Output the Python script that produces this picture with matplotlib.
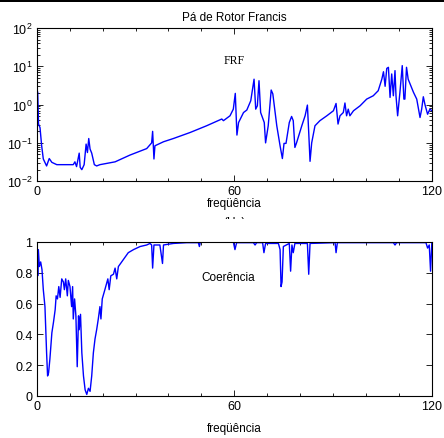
import matplotlib
matplotlib.use("Agg")
import matplotlib.pyplot as plt
from matplotlib.patches import Rectangle
from matplotlib.ticker import MultipleLocator, FormatStrFormatter, LogLocator, NullFormatter

plt.rcParams["font.family"] = ["Liberation Sans", "DejaVu Sans"]
plt.rcParams["mathtext.fontset"] = "custom"
plt.rcParams["mathtext.rm"] = "Liberation Sans"
plt.rcParams["mathtext.it"] = "Liberation Sans"

# FRF magnitude
frf_freq = [0.3, 0.55, 1.0, 1.5, 2.0, 3.0, 3.8, 4.6, 6.1, 9.1, 11.1, 11.6, 12.1, 12.9, 13.2, 13.7, 14.4, 15.0, 15.4, 15.8,
            16.2, 16.7, 17.5, 18.2, 19.2, 23.8, 28.3, 33.4, 34.9, 35.2, 35.6, 35.9, 38.5, 41.5, 46.6, 51.6, 56.2, 56.7,
            58.7, 59.7, 60.3, 60.8, 61.3, 62.8, 63.8, 65.0, 66.0, 66.5, 67.0, 67.5, 68.0, 69.1, 69.5, 70.3, 71.2, 71.7,
            72.9, 73.9, 74.6, 75.1, 75.7, 76.7, 77.4, 77.9, 78.4, 78.9, 80.5, 81.5, 82.2, 82.6, 83.0, 83.5, 84.5, 86.0,
            88.1, 90.1, 90.9, 91.5, 92.1, 93.1, 93.6, 94.1, 94.6, 95.1, 96.2, 98.2, 100.2, 102.2, 103.7, 104.8, 105.3,
            105.8, 106.3, 106.8, 107.3, 107.8, 108.3, 108.8, 109.1, 109.6, 110.3, 111.0, 111.5, 111.8, 112.3, 112.8,
            114.4, 115.4, 116.4, 116.9, 117.4, 117.9, 118.7, 119.4, 120.0]
frf_mag = [2.1, 0.31, 0.25, 0.084, 0.038, 0.025, 0.039, 0.031, 0.027, 0.027, 0.027, 0.032, 0.024, 0.054, 0.023, 0.020,
           0.027, 0.093, 0.056, 0.13, 0.069, 0.054, 0.027, 0.025, 0.027, 0.032, 0.048, 0.071, 0.10, 0.20, 0.038, 0.084,
           0.107, 0.13, 0.187, 0.28, 0.42, 0.38, 0.51, 0.76, 1.96, 0.16, 0.34, 0.62, 0.72, 1.26, 4.6, 0.76, 0.93, 4.2,
           0.62, 0.34, 0.10, 0.28, 2.4, 1.9, 0.28, 0.084, 0.039, 0.097, 0.097, 0.34, 0.49, 0.38, 0.076, 0.10, 0.28,
           0.51, 0.97, 0.187, 0.033, 0.10, 0.28, 0.38, 0.51, 0.69, 1.07, 0.31, 0.51, 0.62, 1.1, 0.51, 0.76, 0.51, 0.69,
           0.93, 1.39, 1.7, 2.3, 4.6, 7.2, 3.0, 8.8, 9.4, 1.54, 6.3, 1.7, 7.7, 1.7, 0.51, 2.1, 10.4, 1.39, 1.39, 9.4,
           4.6, 2.1, 1.39, 0.46, 0.76, 1.6, 1.0, 0.56, 0.76, 0.69]

# coherence
coh_freq = [0.1, 0.3, 0.5, 0.8, 1.2, 1.6, 2.0, 2.5, 3.0, 3.3, 3.6, 4.0, 4.6, 5.1, 5.6, 5.9, 6.3, 6.7, 7.1, 7.6, 8.1, 8.4,
            8.8, 9.3, 9.6, 10.1, 10.6, 10.9, 11.1, 11.5, 11.9, 12.3, 12.7, 12.9, 13.3, 13.7, 14.2, 14.7, 15.2, 15.7,
            16.2, 16.7, 17.2, 17.7, 18.2, 18.7, 19.2, 19.5, 19.9, 20.7, 21.6, 22.0, 22.5, 23.3, 23.8, 24.3, 24.8, 25.8,
            26.8, 27.8, 29.4, 31.4, 33.4, 34.4, 34.9, 35.2, 35.6, 37.4, 38.2, 38.5, 41.5, 45.5, 49.1, 49.4, 49.7, 59.7,
            60.2, 60.7, 65.8, 66.3, 66.8, 68.6, 69.0, 69.5, 73.4, 73.9, 74.2, 74.5, 74.9, 76.7, 77.1, 77.5, 77.9, 78.4,
            82.2, 82.6, 83.0, 90.6, 90.9, 91.3, 108.3, 108.8, 109.3, 118.2, 118.7, 119.2, 119.6, 120.0]
coh_val = [1.0, 0.78, 0.95, 0.84, 0.87, 0.82, 0.69, 0.58, 0.28, 0.13, 0.15, 0.24, 0.41, 0.48, 0.56, 0.65, 0.63, 0.71,
           0.64, 0.76, 0.74, 0.69, 0.76, 0.65, 0.75, 0.71, 0.58, 0.71, 0.50, 0.63, 0.52, 0.19, 0.52, 0.43, 0.53, 0.28,
           0.13, 0.04, 0.01, 0.05, 0.03, 0.13, 0.28, 0.37, 0.43, 0.50, 0.58, 0.50, 0.63, 0.69, 0.76, 0.69, 0.78, 0.79,
           0.83, 0.76, 0.84, 0.87, 0.90, 0.93, 0.95, 0.97, 0.98, 0.99, 0.98, 0.83, 0.98, 0.98, 0.86, 0.98, 0.99, 0.995,
           0.995, 0.97, 1.0, 1.0, 0.95, 0.995, 0.995, 0.98, 0.995, 0.995, 0.93, 0.99, 0.99, 0.95, 0.71, 0.74, 0.97,
           0.99, 0.81, 0.98, 0.93, 0.99, 0.99, 0.79, 0.99, 0.995, 0.93, 0.995, 0.995, 0.98, 0.995, 0.995, 0.96, 0.98,
           0.81, 1.0]

x_ticks = [0, 60, 120]


def style_axis(ax):
    ax.set_xlim(0, 120)
    ax.set_xticks(x_ticks)
    ax.xaxis.set_minor_locator(MultipleLocator(10))
    ax.tick_params(which="both", direction="in", top=True, right=True, labelsize=9, pad=3, width=0.6)
    ax.tick_params(which="major", length=4)
    ax.tick_params(which="minor", length=2.5)
    for s in ax.spines.values():
        s.set_linewidth(0.8)


fig = plt.figure(figsize=(4.44, 4.39), dpi=100)

ax1 = fig.add_axes([0.0827, 0.585, 0.890, 0.349])
ax1.plot(frf_freq, frf_mag, color="#0000ff", linewidth=1.0)
ax1.set_yscale("log")
ax1.set_ylim(1e-2, 1e2)
ax1.yaxis.set_major_locator(LogLocator(base=10, numticks=10))
ax1.yaxis.set_minor_locator(LogLocator(base=10, subs=range(2, 10), numticks=10))
ax1.yaxis.set_minor_formatter(NullFormatter())
style_axis(ax1)
ax1.set_title("Pá de Rotor Francis", fontsize=8.5, pad=6)
ax1.set_xlabel("freqüência", fontsize=8.5, labelpad=0)
ax1.text(0.5, 0.79, "FRF", transform=ax1.transAxes, ha="center", va="center", fontsize=8.5,
         family=["Liberation Serif", "DejaVu Serif"])

ax2 = fig.add_axes([0.0827, 0.0957, 0.890, 0.351])
ax2.plot(coh_freq, coh_val, color="#0000ff", linewidth=1.0)
ax2.set_ylim(0, 1)
ax2.set_yticks([0, 0.2, 0.4, 0.6, 0.8, 1])
ax2.yaxis.set_major_formatter(FormatStrFormatter("%g"))
style_axis(ax2)
ax2.set_xlabel("freqüência", fontsize=8.5, labelpad=7)
ax2.text(0.485, 0.77, "Coerência", transform=ax2.transAxes, ha="center", va="center", fontsize=8.5)

# clipped unit label under the upper panel, as in the source image
fig.text(0.527, 1 - 223 / 439, "(Hz)", ha="center", va="center", fontsize=8.5)
fig.patches.append(Rectangle((0, 1 - 238 / 439), 1, 18.5 / 439, transform=fig.transFigure,
                             facecolor="white", edgecolor="none", zorder=5))
# thick rule along the top edge
fig.patches.append(Rectangle((0, 1 - 2.5 / 439), 1, 2.5 / 439, transform=fig.transFigure,
                             facecolor="black", edgecolor="none", zorder=5))

fig.savefig("out.png", dpi=100)
